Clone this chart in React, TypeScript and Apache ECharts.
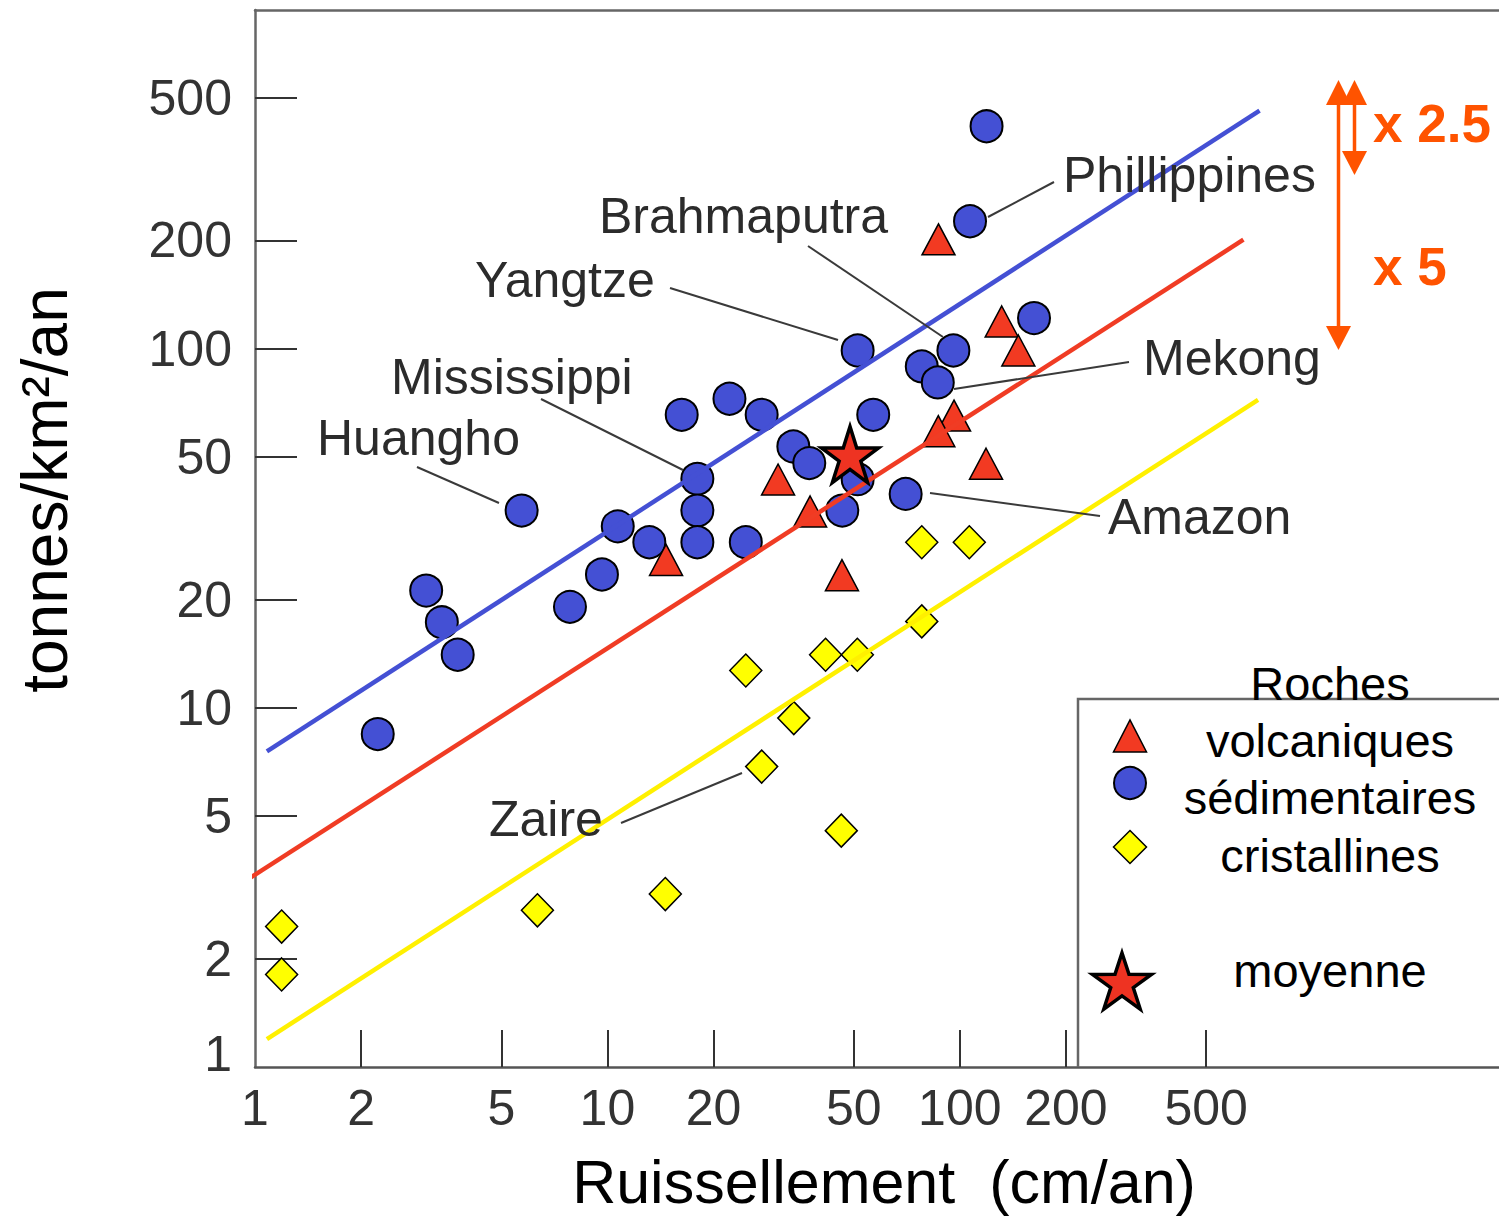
import React, { useEffect, useRef } from 'react';
import * as echarts from 'echarts';

// ---------- data (raw values, log-log chart) ----------
const xTickLabels = [1, 2, 5, 10, 20, 50, 100, 200, 500];
const yTickLabels = [1, 2, 5, 10, 20, 50, 100, 200, 500];

// Roches sédimentaires : [ruissellement cm/an, tonnes/km2/an]
const sedimentaires: [number, number][] = [
  [119.1, 415.8], [106.9, 226.2], [162.4, 121.6], [51.3, 98.8], [95.9, 98.8],
  [78.0, 89.2], [86.6, 80.5], [16.25, 65.4], [22.2, 72.5], [27.4, 65.4],
  [56.8, 65.4], [33.7, 53.4], [37.4, 48.0], [51.3, 43.3], [18.0, 43.4],
  [70.2, 39.4], [5.71, 35.4], [18.0, 35.4], [46.4, 35.4], [10.7, 32.0],
  [13.15, 28.9], [18.0, 28.9], [24.7, 28.9], [9.65, 23.5], [3.06, 21.2],
  [7.83, 19.1], [3.39, 17.3], [3.76, 14.05], [2.23, 8.45],
];

// Roches volcaniques
const volcaniques: [number, number][] = [
  [87.0, 201.5], [131.5, 119.0], [146.6, 98.8], [96.3, 65.1], [86.9, 58.9],
  [118.7, 47.8], [30.5, 43.2], [37.6, 35.2], [14.67, 25.8], [46.3, 23.4],
];

// Roches cristallines
const cristallines: [number, number][] = [
  [78.0, 28.9], [106.4, 28.9], [78.0, 17.4], [24.7, 12.7], [41.6, 14.05],
  [51.2, 14.05], [33.8, 9.36], [27.4, 6.86], [46.1, 4.55], [14.6, 3.03],
  [6.33, 2.73], [1.19, 2.46], [1.19, 1.81],
];

// moyenne
const moyenne: [number, number][] = [[48.8, 50.7]];

// regression lines (end points)
const lineSedimentaires: [number, number][] = [[1.081, 7.56], [709, 460]];
const lineVolcaniques: [number, number][] = [[0.968, 3.36], [638, 201]];
const lineCristallines: [number, number][] = [[1.081, 1.196], [702, 72]];

const xAxisTitle = 'Ruissellement  (cm/an)';
const yAxisTitle = 'tonnes/km²/an';

// ---------- helpers ----------
const lg = (v: number) => Math.log10(v);
const toLog = (arr: [number, number][]) => arr.map(([x, y]) => [lg(x), lg(y)]);

function starPoints(cx: number, cy: number, R: number, r: number): number[][] {
  const pts: number[][] = [];
  for (let i = 0; i < 10; i++) {
    const a = -Math.PI / 2 + (i * Math.PI) / 5;
    const rad = i % 2 === 0 ? R : r;
    pts.push([cx + rad * Math.cos(a), cy + rad * Math.sin(a)]);
  }
  return pts;
}
const starSymbol =
  'path://M' +
  starPoints(50, 50, 50, 19.1)
    .map((p) => p[0].toFixed(2) + ',' + p[1].toFixed(2))
    .join('L') +
  'Z';

const FONT = '"Liberation Sans", Arial, Helvetica, sans-serif';
const ORANGE = '#FF5300';
const BLUE = '#4450D4';
const RED = '#F23A22';
const YELLOW = '#FFFF00';

function txt(text: string, x: number, y: number, size: number, fill: string, align = 'left', weight = 'normal', extra: any = {}) {
  return {
    type: 'text',
    x,
    y,
    silent: true,
    z: 100,
    ...extra,
    style: {
      text,
      x: 0,
      y: 0,
      fontSize: size,
      fontFamily: FONT,
      fontWeight: weight,
      fill,
      align,
      textAlign: align,
      verticalAlign: 'middle',
      textVerticalAlign: 'middle',
    },
  };
}

function seg(x1: number, y1: number, x2: number, y2: number, stroke: string, w: number) {
  return {
    type: 'line',
    silent: true,
    z: 90,
    shape: { x1, y1, x2, y2 },
    style: { stroke, lineWidth: w },
  };
}

function poly(points: number[][], fill: string, stroke?: string, w = 0) {
  return {
    type: 'polygon',
    silent: true,
    z: 95,
    shape: { points },
    style: { fill, stroke: stroke || fill, lineWidth: w },
  };
}

export default function App() {
  const ref = useRef<HTMLDivElement>(null);

  useEffect(() => {
    if (!ref.current) return;
    const chart = echarts.init(ref.current, null, { renderer: 'svg' });

    const X_MAX = 1244 / 352.4;
    const Y_MAX = 1057 / 359.2;
    const fmt = (v: number) => String(Math.round(Math.pow(10, v)));

    const leaderColor = '#3a3a3a';
    const labelColor = '#2b2b2b';
    const LS = 50;

    const graphics: any[] = [
      // annotation leader lines
      seg(1054, 182, 988, 217, leaderColor, 2),
      seg(808, 246, 943, 337, leaderColor, 2),
      seg(670, 288, 838, 340, leaderColor, 2),
      seg(541, 399, 683, 470, leaderColor, 2),
      seg(417, 467, 499, 503, leaderColor, 2),
      seg(1129, 362, 954, 389, leaderColor, 2),
      seg(930, 493, 1100, 516, leaderColor, 2),
      seg(621, 823, 742, 773, leaderColor, 2),
      // annotation labels
      txt('Phillippines', 1063, 175, LS, labelColor),
      txt('Brahmaputra', 599, 216, LS, labelColor),
      txt('Yangtze', 475, 280, LS, labelColor),
      txt('Mississippi', 391, 377, LS, labelColor),
      txt('Huangho', 317, 438, LS, labelColor),
      txt('Mekong', 1143, 358, LS, labelColor),
      txt('Amazon', 1108, 517, LS, labelColor),
      txt('Zaire', 489, 819, LS, labelColor),
      // orange arrows
      seg(1338.5, 100, 1338.5, 330, ORANGE, 3.5),
      poly([[1326, 105], [1351, 105], [1338.5, 80]], ORANGE),
      poly([[1326, 326], [1351, 326], [1338.5, 350]], ORANGE),
      seg(1354.5, 100, 1354.5, 155, ORANGE, 3.5),
      poly([[1342, 105], [1367, 105], [1354.5, 80]], ORANGE),
      poly([[1342, 151], [1367, 151], [1354.5, 175]], ORANGE),
      txt('x 2.5', 1373, 123, 53, ORANGE, 'left', 'bold'),
      txt('x 5', 1373, 266, 53, ORANGE, 'left', 'bold'),
      // legend box
      {
        type: 'polyline',
        silent: true,
        z: 80,
        shape: { points: [[1078, 1067], [1078, 699], [1500, 699]] },
        style: { stroke: '#666', lineWidth: 2.5, fill: 'none' },
      },
      txt('Roches', 1330, 683, 47, '#000', 'center'),
      txt('volcaniques', 1330, 740, 47, '#000', 'center'),
      txt('sédimentaires', 1330, 797, 47, '#000', 'center'),
      txt('cristallines', 1330, 855, 47, '#000', 'center'),
      txt('moyenne', 1330, 970, 47, '#000', 'center'),
      poly([[1113.5, 752], [1146.5, 752], [1130, 720]], RED, '#000', 1.5),
      {
        type: 'circle',
        silent: true,
        z: 95,
        shape: { cx: 1130, cy: 783, r: 16 },
        style: { fill: BLUE, stroke: '#000', lineWidth: 2 },
      },
      poly([[1130, 830.5], [1146.5, 847], [1130, 863.5], [1113.5, 847]], YELLOW, '#000', 1.5),
      poly(starPoints(1122, 984, 31, 11.9), '#EE3322', '#000', 3.5),
      // axis titles
      txt(xAxisTitle, 884, 1182, 61, '#000', 'center'),
      txt(yAxisTitle, 45, 490, 64, '#000', 'center', 'normal', { rotation: Math.PI / 2 }),
    ];

    const scatterBase = {
      type: 'scatter',
      silent: true,
      emphasis: { disabled: true },
    };

    chart.setOption({
      animation: false,
      backgroundColor: '#fff',
      grid: { left: 255, right: 0, top: 10, bottom: 151, containLabel: false, outerBoundsMode: 'none' },
      xAxis: [
        {
          type: 'value',
          min: 0,
          max: X_MAX,
          position: 'bottom',
          axisLine: { show: true, onZero: false, lineStyle: { color: '#555', width: 2.5 } },
          axisTick: {
            show: true,
            inside: true,
            length: 37,
            customValues: xTickLabels.slice(1).map(lg),
            lineStyle: { color: '#333', width: 2 },
          },
          axisLabel: {
            show: true,
            customValues: xTickLabels.map(lg),
            formatter: fmt,
            margin: 16,
            fontSize: 50,
            fontFamily: FONT,
            color: '#333',
          },
          splitLine: { show: false },
        },
        {
          type: 'value',
          min: 0,
          max: X_MAX,
          position: 'top',
          axisLine: { show: true, onZero: false, lineStyle: { color: '#666', width: 2.5 } },
          axisTick: { show: false },
          axisLabel: { show: false },
          splitLine: { show: false },
        },
      ],
      yAxis: {
        type: 'value',
        min: 0,
        max: Y_MAX,
        axisLine: { show: true, onZero: false, lineStyle: { color: '#666', width: 2.5 } },
        axisTick: {
          show: true,
          inside: true,
          length: 42,
          customValues: yTickLabels.slice(1).map(lg),
          lineStyle: { color: '#333', width: 2 },
        },
        axisLabel: {
          show: true,
          customValues: yTickLabels.map(lg),
          formatter: (v: number) => (Math.abs(v) < 1e-9 ? '{one|1}' : fmt(v)),
          margin: 23,
          fontSize: 50,
          fontFamily: FONT,
          color: '#333',
          rich: {
            one: { fontSize: 50, fontFamily: FONT, color: '#333', padding: [0, 0, 26, 0] },
          },
        },
        splitLine: { show: false },
      },
      graphic: graphics,
      series: [
        {
          ...scatterBase,
          name: 'sédimentaires',
          symbol: 'circle',
          symbolSize: 32,
          itemStyle: { color: BLUE, borderColor: '#000', borderWidth: 2, opacity: 1 },
          data: toLog(sedimentaires),
          z: 2,
        },
        {
          ...scatterBase,
          name: 'volcaniques',
          symbol: 'triangle',
          symbolSize: [33, 31],
          itemStyle: { color: RED, borderColor: '#000', borderWidth: 1.5, opacity: 1 },
          data: toLog(volcaniques),
          z: 3,
        },
        {
          ...scatterBase,
          name: 'cristallines',
          symbol: 'diamond',
          symbolSize: [32, 33],
          itemStyle: { color: YELLOW, borderColor: '#000', borderWidth: 1.5, opacity: 1 },
          data: toLog(cristallines),
          z: 3,
        },
        {
          type: 'line',
          name: 'droite sédimentaires',
          data: toLog(lineSedimentaires),
          showSymbol: false,
          symbol: 'none',
          clip: false,
          silent: true,
          lineStyle: { color: BLUE, width: 4.5 },
          z: 4,
        },
        {
          type: 'line',
          name: 'droite volcaniques',
          data: toLog(lineVolcaniques),
          showSymbol: false,
          symbol: 'none',
          clip: false,
          silent: true,
          lineStyle: { color: '#F03C24', width: 4.5 },
          z: 4,
        },
        {
          type: 'line',
          name: 'droite cristallines',
          data: toLog(lineCristallines),
          showSymbol: false,
          symbol: 'none',
          clip: false,
          silent: true,
          lineStyle: { color: '#FFF000', width: 4.5 },
          z: 4,
        },
        {
          ...scatterBase,
          name: 'moyenne',
          symbol: starSymbol,
          symbolSize: [57, 56],
          itemStyle: { color: '#EE3322', borderColor: '#000', borderWidth: 3.5, opacity: 1 },
          data: toLog(moyenne),
          z: 6,
        },
      ],
    });

    return () => {
      chart.dispose();
    };
  }, []);

  return (
    <div
      ref={ref}
      style={{ position: 'fixed', left: 0, top: 0, width: 1499, height: 1218, background: '#fff' }}
    />
  );
}
